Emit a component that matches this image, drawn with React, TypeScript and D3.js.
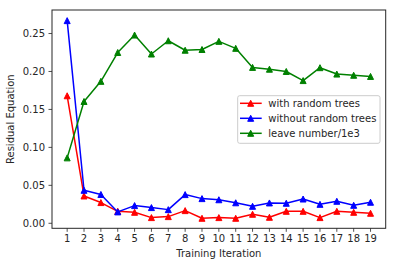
import React from 'react';
import * as d3 from 'd3';

const iterations = [1, 2, 3, 4, 5, 6, 7, 8, 9, 10, 11, 12, 13, 14, 15, 16, 17, 18, 19];

const withRandomTrees = [0.168, 0.036, 0.0273, 0.0158, 0.0145, 0.0075, 0.0088, 0.0167, 0.0066, 0.0075,
    0.0066, 0.0119, 0.0079, 0.0158, 0.0158, 0.0075, 0.0158, 0.0145, 0.0132];

const withoutRandomTrees = [0.267, 0.0435, 0.038, 0.015, 0.0233, 0.0207, 0.018, 0.0378, 0.0325, 0.031,
    0.027, 0.0224, 0.0268, 0.0264, 0.032, 0.025, 0.029, 0.0237, 0.0277];

const leaveNumber = [0.0862, 0.1605, 0.187, 0.225, 0.248, 0.223, 0.2405, 0.228, 0.229, 0.2397,
    0.2305, 0.2054, 0.203, 0.200, 0.188, 0.205, 0.1966, 0.195, 0.1935];

const yTicks = [0, 0.05, 0.1, 0.15, 0.2, 0.25];

const seriesList = [
    { name: 'with random trees', values: withRandomTrees, color: '#ff0000' },
    { name: 'without random trees', values: withoutRandomTrees, color: '#0000ff' },
    { name: 'leave number/1e3', values: leaveNumber, color: '#008000' }
];

const font = 'DejaVu Sans, sans-serif';
const tri = 'M0,-3L3,3L-3,3Z';

export default function App() {

    const width = 396, height = 266;
    const margin = { top: 10, right: 10.3, bottom: 37.7, left: 52 };
    const innerW = width - margin.left - margin.right;
    const innerH = height - margin.top - margin.bottom;

    const xScale = d3.scaleLinear().domain([0.1, 19.9]).range([0, innerW]);
    const yScale = d3.scaleLinear().domain([-0.0066, 0.281]).range([innerH, 0]);

    const line = d3.line<number>()
        .x((d, i) => xScale(iterations[i]))
        .y(d => yScale(d));

    const legendX = 237.7 - margin.left, legendY = 95.7 - margin.top;

    return <svg width={width} height={height} style={{ position: 'absolute', left: 0, top: 0, background: '#fff' }}>
        <g transform={`translate(${margin.left},${margin.top})`} fontFamily={font} fontSize={10} fill="#262626">

            {seriesList.map(s => (
                <g key={s.name}>
                    <path d={line(s.values) || ''} fill="none" stroke={s.color} strokeWidth={1.5} strokeLinejoin="round" />
                    {s.values.map((v, i) => (
                        <path key={i} d={tri} transform={`translate(${xScale(iterations[i])},${yScale(v)})`}
                            fill={s.color} stroke={s.color} strokeWidth={1} />
                    ))}
                </g>
            ))}

            <rect x={0} y={0} width={innerW} height={innerH} fill="none" stroke="#262626" strokeWidth={1} />

            {yTicks.map(t => (
                <g key={t} transform={`translate(0,${yScale(t)})`}>
                    <line x1={-3.5} x2={0} stroke="#262626" strokeWidth={0.8} />
                    <text x={-7} dy="0.35em" textAnchor="end">{t.toFixed(2)}</text>
                </g>
            ))}

            {iterations.map(t => (
                <g key={t} transform={`translate(${xScale(t)},${innerH})`}>
                    <line y1={0} y2={3.5} stroke="#262626" strokeWidth={0.8} />
                    <text y={7} dy="0.71em" textAnchor="middle">{t}</text>
                </g>
            ))}

            <text x={innerW / 2} y={innerH + 28.5} textAnchor="middle">Training Iteration</text>
            <text transform={`translate(${-37.8},${innerH / 2}) rotate(-90)`} textAnchor="middle">Residual Equation</text>

            <g transform={`translate(${legendX},${legendY})`}>
                <rect x={0} y={0} width={142.3} height={47.6} rx={2} fill="#fff" fillOpacity={0.8} stroke="#cccccc" strokeWidth={1} />
                {seriesList.map((s, i) => (
                    <g key={s.name} transform={`translate(0,${7.6 + i * 15})`}>
                        <line x1={2.3} x2={24} stroke={s.color} strokeWidth={1.5} />
                        <path d={tri} transform="translate(13,0)" fill={s.color} stroke={s.color} strokeWidth={1} />
                        <text x={30.6} dy="0.35em">{s.name}</text>
                    </g>
                ))}
            </g>
        </g>
    </svg>
}
